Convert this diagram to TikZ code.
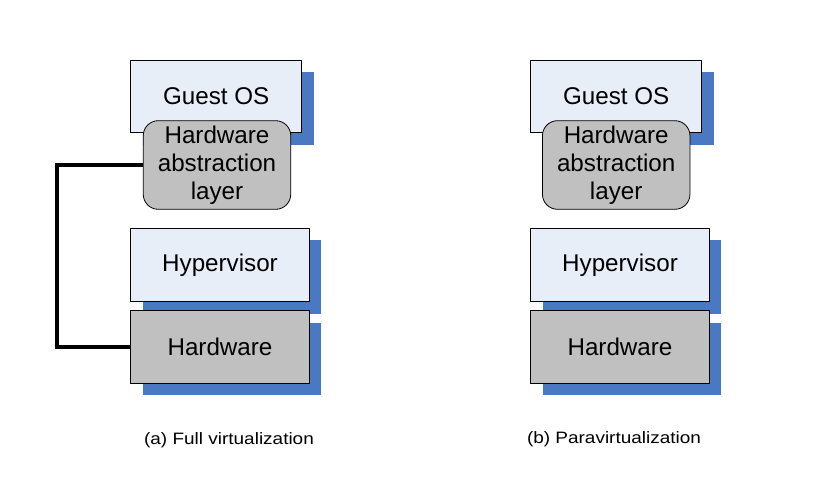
\documentclass[tikz,border=0pt]{standalone}
\usepackage{fontspec}
\usepackage{graphicx}
\setmainfont{Liberation Sans}
\usetikzlibrary{shadows}
\definecolor{lightfill}{HTML}{E8EEF8}
\definecolor{grayfill}{HTML}{C0C0C0}
\definecolor{shadowblue}{HTML}{4A78C2}
\tikzset{
  layerbox/.style={draw=black, line width=0.8pt, inner sep=0pt, align=center,
    font=\fontsize{24.2}{28}\selectfont},
  shadowed/.style={drop shadow={shadow xshift=12pt, shadow yshift=-12pt, fill=shadowblue, opacity=1}},
  guestbox/.style={layerbox, shadowed, fill=lightfill, minimum width=171pt, minimum height=72.7pt},
  halbox/.style={layerbox, fill=grayfill, rounded corners=15pt, minimum width=147.5pt, minimum height=88.6pt},
  hypbox/.style={layerbox, shadowed, fill=lightfill, minimum width=178.6pt, minimum height=73.4pt},
  hwbox/.style={layerbox, shadowed, fill=grayfill, minimum width=178.6pt, minimum height=72.6pt},
  caption/.style={inner sep=0pt, font=\fontsize{16.5}{19}\selectfont},
  link/.style={draw=black, line width=3.2pt}
}
\begin{document}
\begin{tikzpicture}[x=1pt, y=-1pt]
\useasboundingbox (0,0) rectangle (816,500);
% (a) Full virtualization
\node[guestbox] (gosA) at (216.2,96.3) {Guest OS};
\node[halbox] (halA) at (217,165) {Hardware\\abstraction\\layer};
\node[hypbox] (hypA) at (220,265) {Hypervisor};
\node[hwbox] (hwA) at (220,347) {Hardware};
\coordinate (bendA) at (57,0);
\draw[link] (halA.west) -- (halA.west -| bendA) -- (hwA.west -| bendA) -- (hwA.west);
\node[caption] (capA) at (229,440.5) {\scalebox{1.15}[1]{(a) Full virtualization}};
% (b) Paravirtualization
\node[guestbox] (gosB) at (616.2,96.3) {Guest OS};
\node[halbox] (halB) at (616.2,165) {Hardware\\abstraction\\layer};
\node[hypbox] (hypB) at (620,265) {Hypervisor};
\node[hwbox] (hwB) at (620,347) {Hardware};
\node[caption] (capB) at (614,439) {\scalebox{1.15}[1]{(b) Paravirtualization}};
\end{tikzpicture}
\end{document}
